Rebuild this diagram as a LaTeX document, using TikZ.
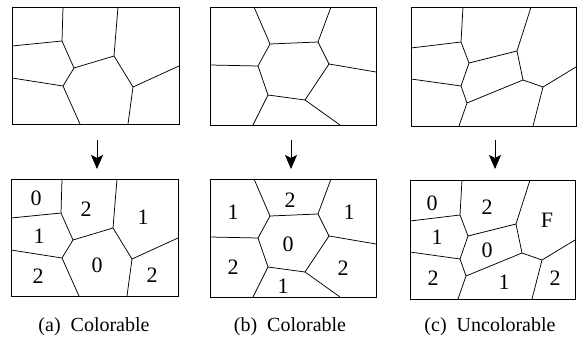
\documentclass[tikz,border=0pt]{standalone}
\usepackage{fontspec}
\setmainfont{Liberation Serif}
\usetikzlibrary{arrows.meta}
\tikzset{
  map/.style={line width=0.75pt, line join=round},
  frame/.style={line width=0.9pt},
  lbl/.style={font=\fontsize{22}{22}\selectfont, inner sep=0pt},
  captxt/.style={font=\fontsize{20}{21}\selectfont, inner sep=0pt},
  down/.style={line width=0.7pt, -{Stealth[length=14pt,width=12pt,inset=3pt]}}
}
\newcommand\drawmapA{%
  \draw[frame] (12,7) rectangle (179,124);
  \draw[map] (63,7)--(62,41)--(74,68)--(114,56)--(118,7);
  \draw[map] (12,46)--(62,41);
  \draw[map] (114,56)--(133,87)--(179,66);
  \draw[map] (133,87)--(128,124);
  \draw[map] (74,68)--(63,86)--(12,78);
  \draw[map] (63,86)--(80,124);
}
\newcommand\drawmapB{%
  \draw[frame] (210,7) rectangle (376,125);
  \draw[map] (254,7)--(270,44)--(318,42)--(331,7);
  \draw[map] (318,42)--(329,64)--(376,72);
  \draw[map] (329,64)--(305,100)--(340,125);
  \draw[map] (305,100)--(268,95)--(253,125);
  \draw[map] (268,95)--(258,66)--(210,65);
  \draw[map] (258,66)--(270,44);
}
\newcommand\drawmapC{%
  \draw[frame] (411,7) rectangle (576,126);
  \draw[map] (463,7)--(461,42)--(469,63)--(517,51)--(531,7);
  \draw[map] (411,48)--(461,42);
  \draw[map] (517,51)--(523,80)--(543,87)--(576,67);
  \draw[map] (543,87)--(533,126);
  \draw[map] (523,80)--(467,103)--(459,126);
  \draw[map] (467,103)--(461,86)--(411,79);
  \draw[map] (461,86)--(469,63);
}
\begin{document}
\begin{tikzpicture}[x=1pt,y=-1pt]
\useasboundingbox (0,0) rectangle (577,339);
% top maps
\drawmapA
\drawmapB
\drawmapC
% bottom maps
\begin{scope}[shift={(-1,172)}]\drawmapA\end{scope}
\begin{scope}[shift={(0,172)}]\drawmapB\end{scope}
\begin{scope}[shift={(-1,173)}]\drawmapC\end{scope}
% arrows
\coordinate (a1) at (97,140); \coordinate (a2) at (97,169);
\coordinate (b1) at (291,140); \coordinate (b2) at (291,169);
\coordinate (c1) at (495,140); \coordinate (c2) at (495,169);
\draw[down] (a1) -- (a2);
\draw[down] (b1) -- (b2);
\draw[down] (c1) -- (c2);
% labels (a)
\node[lbl] (a0a) at (36,198) {0};
\node[lbl] (a2a) at (86,209) {2};
\node[lbl] (a1a) at (143,217) {1};
\node[lbl] (a1b) at (39,236) {1};
\node[lbl] (a0b) at (97,265) {0};
\node[lbl] (a2b) at (38,276) {2};
\node[lbl] (a2c) at (152,275) {2};
% labels (b)
\node[lbl] (b1a) at (233,212) {1};
\node[lbl] (b2a) at (290,200) {2};
\node[lbl] (b1b) at (349,212) {1};
\node[lbl] (b0a) at (288,244) {0};
\node[lbl] (b2b) at (233,267) {2};
\node[lbl] (b2c) at (343,268) {2};
\node[lbl] (b1c) at (283,286) {1};
% labels (c)
\node[lbl] (c0a) at (432,203) {0};
\node[lbl] (c2a) at (487,207) {2};
\node[lbl] (cF) at (547,220) {F};
\node[lbl] (c1a) at (437,237) {1};
\node[lbl] (c0b) at (487,250) {0};
\node[lbl] (c2b) at (433,278) {2};
\node[lbl] (c1b) at (504,282) {1};
\node[lbl] (c2c) at (555,278) {2};
% captions
\node[captxt] (capa) at (94,327) {(a)\hspace{0.5em}Colorable};
\node[captxt] (capb) at (290,327) {(b)\hspace{0.5em}Colorable};
\node[captxt] (capc) at (490,327) {(c)\hspace{0.5em}Uncolorable};
\end{tikzpicture}
\end{document}
